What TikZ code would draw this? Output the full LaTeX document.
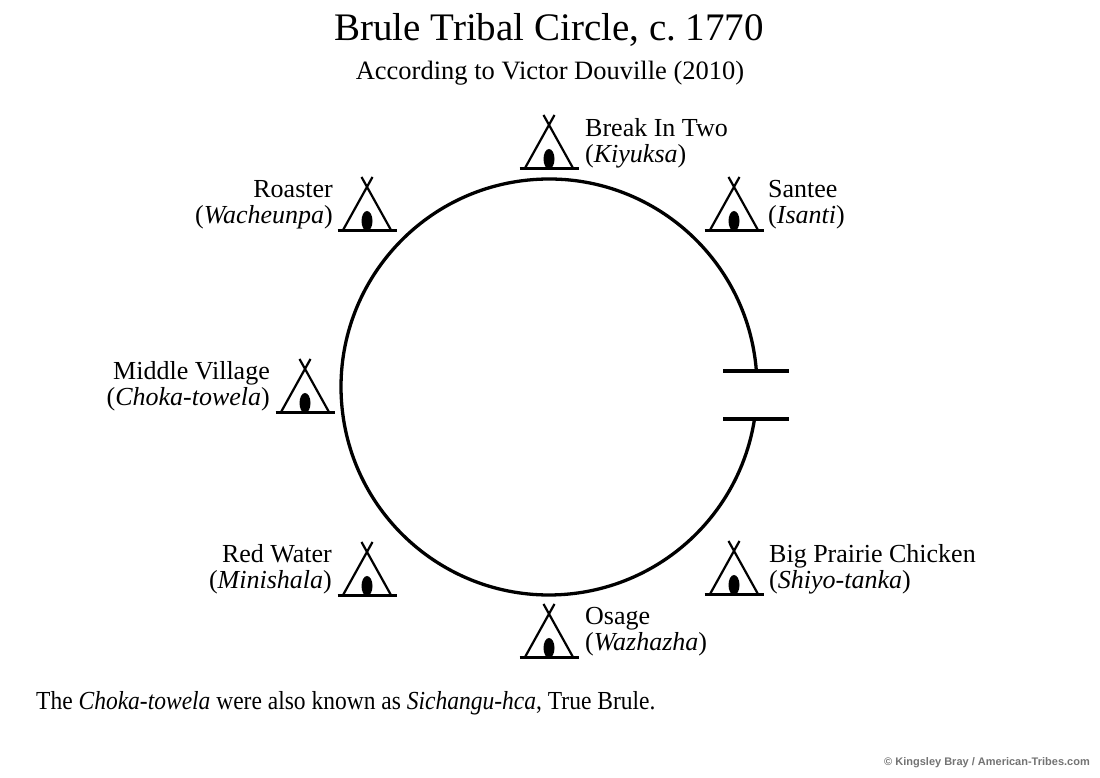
\documentclass[tikz,border=0pt]{standalone}
\usepackage{fontspec}
\setmainfont{Liberation Serif}
\setsansfont{Liberation Sans}
\usetikzlibrary{calc}

\tikzset{
    lbl/.style={inner sep=0pt, font=\fontsize{26}{28}\selectfont},
    tipi/.pic={
        \draw[line width=3pt] (-29.5,0) -- (29.5,0);
        \draw[line width=2.2pt] (-24.5,0) -- (5.5,54);
        \draw[line width=2.2pt] (24.5,0) -- (-5.5,54);
        \fill (0,10) ellipse (5.5 and 10);
    }
}

\begin{document}
\begin{tikzpicture}[x=1pt, y=1pt]
        \useasboundingbox (0,0) rectangle (1100,778);

        \node [inner sep=0pt, anchor=base, font=\fontsize{39}{40}\selectfont] (title) at (549,737) {Brule Tribal Circle, c.\ 1770};
        \node [inner sep=0pt, anchor=base, font=\fontsize{26.5}{28}\selectfont] (sub) at (550,698) {According to Victor Douville (2010)};

        % the camp circle, open to the east
        \coordinate (O) at (549,391);
        \draw[line width=3.3pt] (O) ++(4.4:208) arc (4.4:351.2:208);
        \draw[line width=3.3pt] (723,407) coordinate (gA) -- (789,407) coordinate (gB);
        \draw[line width=3.3pt] (723,359) coordinate (gC) -- (789,359) coordinate (gD);

        % tipis
        \coordinate (kiy) at (549,609);
        \coordinate (san) at (734,547);
        \coordinate (wac) at (367,547);
        \coordinate (cho) at (305,365);
        \coordinate (min) at (367,182);
        \coordinate (shi) at (734,183);
        \coordinate (waz) at (549,120);
        \foreach \t in {kiy,san,wac,cho,min,shi,waz}
            \pic at (\t) {tipi};

        \node [lbl, anchor=base west] (kiyA) at ($(kiy)+(36,32)$) {Break In Two};
        \node [lbl, anchor=base west] (kiyB) at ($(kiy)+(36,6)$) {(\textit{Kiyuksa})};
        \node [lbl, anchor=base west] (sanA) at ($(san)+(34,33)$) {Santee};
        \node [lbl, anchor=base west] (sanB) at ($(san)+(34,7)$) {(\textit{Isanti})};
        \node [lbl, anchor=base east] (wacA) at ($(wac)+(-34,33)$) {Roaster};
        \node [lbl, anchor=base east] (wacB) at ($(wac)+(-34,7)$) {(\textit{Wacheunpa})};
        \node [lbl, anchor=base east] (choA) at ($(cho)+(-35,33)$) {Middle Village};
        \node [lbl, anchor=base east] (choB) at ($(cho)+(-35,7)$) {(\textit{Choka-towela})};
        \node [lbl, anchor=base east] (minA) at ($(min)+(-35,33)$) {Red Water};
        \node [lbl, anchor=base east] (minB) at ($(min)+(-35,7)$) {(\textit{Minishala})};
        \node [lbl, anchor=base west] (shiA) at ($(shi)+(35,32)$) {Big Prairie Chicken};
        \node [lbl, anchor=base west] (shiB) at ($(shi)+(35,6)$) {(\textit{Shiyo-tanka})};
        \node [lbl, anchor=base west] (wazA) at ($(waz)+(36,33)$) {Osage};
        \node [lbl, anchor=base west] (wazB) at ($(waz)+(36,7)$) {(\textit{Wazhazha})};

        \node [lbl, anchor=base west, xscale=0.904, transform shape] (note) at (36,68) {The \textit{Choka-towela} were also known as \textit{Sichangu-hca}, True Brule.};
        \node [inner sep=0pt, anchor=base east, text=black!55, font=\sffamily\bfseries\fontsize{11}{12}\selectfont] (copy) at (1090,12) {\textcopyright{} Kingsley Bray / American-Tribes.com};
    \end{tikzpicture}
\end{document}
